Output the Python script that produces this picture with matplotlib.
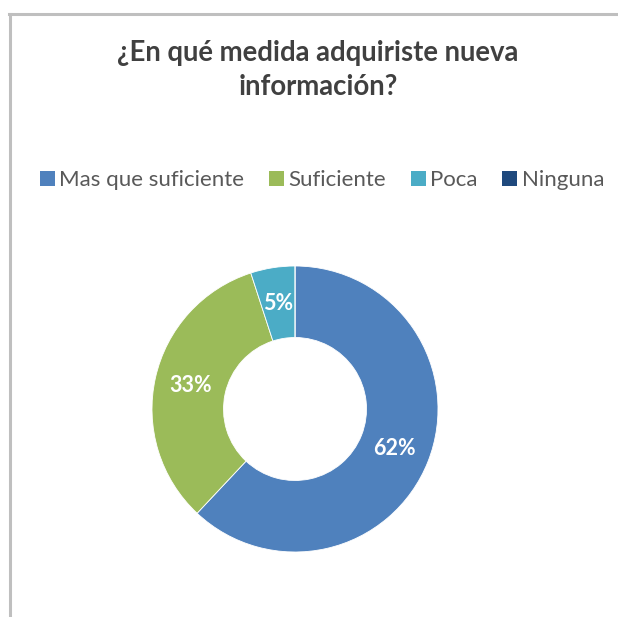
import numpy as np
import matplotlib.pyplot as plt
from matplotlib.patches import Patch
from matplotlib.lines import Line2D

labels = ['Mas que suficiente', 'Suficiente', 'Poca', 'Ninguna']
values = [62, 33, 5, 0]
colors = ['#4F81BD', '#9BBB59', '#4BACC6', '#1F497D']
pct_labels = ['62%', '33%', '5%', '']

plt.rcParams['font.family'] = ['Lato', 'DejaVu Sans']

fig = plt.figure(figsize=(6.18, 6.17), dpi=100)

# gray chart frame (left and top edges visible)
fig.add_artist(Line2D([9.5 / 618, 9.5 / 618], [0, 1 - 13.5 / 617], color='#BFBFBF', lw=2.2))
fig.add_artist(Line2D([8.5 / 618, 1], [1 - 13.5 / 617, 1 - 13.5 / 617], color='#BFBFBF', lw=2.2))

fig.text(318 / 618, 1 - 70 / 617, '¿En qué medida adquiriste nueva\ninformación?',
         ha='center', va='center', fontsize=19.8, fontweight='bold', color='#404040',
         linespacing=1.4)

# donut
ax = fig.add_axes([(295 - 145) / 618, 1 - (409 + 145) / 617, 290 / 618, 290 / 617])
wedges, _ = ax.pie(values, colors=colors, startangle=90, counterclock=False,
                   radius=1, wedgeprops=dict(width=0.5, edgecolor='white', linewidth=0.6))
ax.set_xlim(-145 / 143, 145 / 143)
ax.set_ylim(-145 / 143, 145 / 143)
ax.set_aspect('equal')

start = 90.0
total = sum(values)
for v, t in zip(values, pct_labels):
    ang = start - 360 * v / total / 2
    start -= 360 * v / total
    if not t:
        continue
    a = np.deg2rad(ang)
    ax.text(0.75 * np.cos(a), 0.75 * np.sin(a), t, ha='center', va='center',
            fontsize=15.5, fontweight='bold', color='white')

handles = [Patch(facecolor=c, edgecolor='none') for c in colors]
fig.legend(handles, labels, loc='center', bbox_to_anchor=(322 / 618, 1 - 180 / 617),
           ncol=4, frameon=False, fontsize=16, handlelength=0.68, handleheight=0.68,
           handletextpad=0.2, columnspacing=1.1, labelcolor='#595959')

fig.savefig('out.png', dpi=100)
